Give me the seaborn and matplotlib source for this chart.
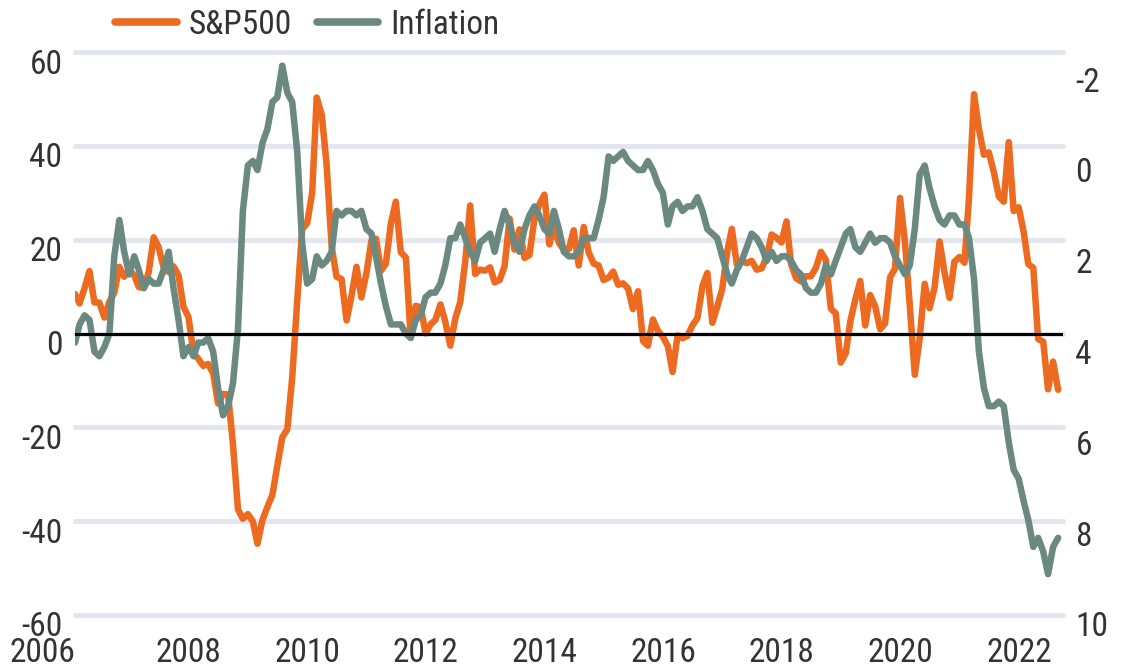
import numpy as np
import pandas as pd
import matplotlib
matplotlib.use("Agg")
import matplotlib.pyplot as plt
import matplotlib.dates as mdates
import matplotlib.transforms as mtransforms
import matplotlib.font_manager as fm
import seaborn as sns

# ---------------- data (monthly, Jan 2006 - Aug 2022) ----------------
sp500_yoy = [
    # 2006
    8.4, 6.4, 9.7, 13.3, 6.6, 6.6, 3.4, 6.8, 8.7, 14.2, 12.1, 13.6,
    # 2007
    12.4, 9.9, 9.7, 13.1, 20.5, 18.4, 14.0, 13.1, 14.3, 12.4, 5.7, 3.5,
    # 2008
    -4.2, -5.4, -6.9, -6.5, -8.5, -14.9, -12.9, -13.0, -23.6, -37.5, -39.5, -38.5,
    # 2009
    -40.1, -44.8, -39.7, -37.0, -34.4, -28.2, -22.1, -20.4, -9.4, 7.0, 22.2, 23.5,
    # 2010
    30.0, 50.3, 46.6, 36.0, 18.5, 12.1, 11.6, 2.8, 8.0, 14.2, 7.7, 12.8,
    # 2011
    19.8, 20.2, 13.4, 14.9, 23.5, 28.1, 17.3, 16.2, -0.9, 5.9, 5.6, 0.0,
    # 2012
    2.0, 2.9, 6.2, 2.5, -2.6, 3.1, 6.7, 15.4, 27.3, 12.7, 13.6, 13.4,
    # 2013
    14.1, 10.9, 11.4, 14.3, 24.5, 17.9, 22.2, 16.1, 16.7, 24.4, 27.5, 29.6,
    # 2014
    19.0, 22.8, 19.3, 17.9, 18.0, 22.0, 14.5, 22.7, 17.3, 14.9, 14.5, 11.4,
    # 2015
    11.9, 13.2, 10.4, 10.7, 9.6, 5.2, 9.0, -1.6, -2.6, 3.0, 0.6, -0.7,
    # 2016
    -2.7, -8.2, -0.4, -1.0, -0.5, 1.7, 3.3, 10.1, 12.9, 2.3, 5.7, 9.5,
    # 2017
    17.5, 22.3, 14.7, 15.4, 15.0, 15.5, 13.6, 13.9, 16.2, 21.1, 20.4, 19.4,
    # 2018
    23.9, 14.8, 11.8, 11.1, 12.2, 12.2, 14.0, 17.4, 15.7, 5.3, 4.3, -6.2,
    # 2019
    -4.2, 2.6, 7.3, 11.2, 1.7, 8.2, 5.8, 0.9, 2.2, 12.0, 13.8, 28.9,
    # 2020
    19.3, 6.1, -8.8, -1.1, 10.6, 5.4, 9.8, 19.6, 13.0, 7.6, 15.3, 16.3,
    # 2021
    15.1, 29.0, 51.0, 43.6, 38.1, 38.6, 34.4, 29.2, 28.1, 40.8, 26.1, 26.9,
    # 2022
    21.6, 14.8, 14.0, -1.2, -1.7, -11.9, -6.0, -12.0,
]

inflation_yoy = [
    # 2006
    4.0, 3.6, 3.4, 3.5, 4.2, 4.3, 4.1, 3.8, 2.1, 1.3, 2.0, 2.5,
    # 2007
    2.1, 2.4, 2.8, 2.6, 2.7, 2.7, 2.4, 2.0, 2.8, 3.5, 4.3, 4.1,
    # 2008
    4.3, 4.0, 4.0, 3.9, 4.2, 5.0, 5.6, 5.4, 4.9, 3.7, 1.1, 0.1,
    # 2009
    0.0, 0.2, -0.4, -0.7, -1.3, -1.4, -2.1, -1.5, -1.3, -0.2, 1.8, 2.7,
    # 2010
    2.6, 2.1, 2.3, 2.2, 2.0, 1.1, 1.2, 1.1, 1.1, 1.2, 1.1, 1.5,
    # 2011
    1.6, 2.1, 2.7, 3.2, 3.6, 3.6, 3.6, 3.8, 3.9, 3.5, 3.4, 3.0,
    # 2012
    2.9, 2.9, 2.7, 2.3, 1.7, 1.7, 1.4, 1.7, 2.0, 2.2, 1.8, 1.7,
    # 2013
    1.6, 2.0, 1.5, 1.1, 1.4, 1.8, 2.0, 1.5, 1.2, 1.0, 1.2, 1.5,
    # 2014
    1.6, 1.1, 1.5, 2.0, 2.1, 2.1, 2.0, 1.7, 1.7, 1.7, 1.3, 0.8,
    # 2015
    -0.1, 0.0, -0.1, -0.2, 0.0, 0.1, 0.2, 0.2, 0.0, 0.2, 0.5, 0.7,
    # 2016
    1.4, 1.0, 0.9, 1.1, 1.0, 1.0, 0.8, 1.1, 1.5, 1.6, 1.7, 2.1,
    # 2017
    2.5, 2.7, 2.4, 2.2, 1.9, 1.6, 1.7, 1.9, 2.2, 2.0, 2.2, 2.1,
    # 2018
    2.1, 2.2, 2.4, 2.5, 2.8, 2.9, 2.9, 2.7, 2.3, 2.5, 2.2, 1.9,
    # 2019
    1.6, 1.5, 1.9, 2.0, 1.8, 1.6, 1.8, 1.7, 1.7, 1.8, 2.1, 2.3,
    # 2020
    2.5, 2.3, 1.5, 0.3, 0.1, 0.6, 1.0, 1.3, 1.4, 1.2, 1.2, 1.4,
    # 2021
    1.4, 1.7, 2.6, 4.2, 5.0, 5.4, 5.4, 5.3, 5.4, 6.2, 6.8, 7.0,
    # 2022
    7.5, 7.9, 8.5, 8.3, 8.6, 9.1, 8.5, 8.3,
]

start_month = "2006-01-01"
left_ticks = [-60, -40, -20, 0, 20, 40, 60]
right_ticks = [-2, 0, 2, 4, 6, 8, 10]
year_ticks = list(range(2006, 2023, 2))
series_names = ["S&P500", "Inflation"]

# ---------------- styling ----------------
sns.set_style("white")

# look for a narrow / condensed sans font
entries = fm.fontManager.ttflist
names = {f.name for f in entries}
family, stretch = None, "normal"
for cand in ["Liberation Sans Narrow", "Arial Narrow", "Roboto Condensed",
             "Open Sans Condensed", "Noto Sans Condensed", "DejaVu Sans Condensed"]:
    if cand in names:
        family = cand
        break
if family is None:
    for base in ["Liberation Sans", "Roboto", "Noto Sans", "Open Sans", "DejaVu Sans"]:
        cond = [f for f in entries if f.name == base and str(f.stretch) in
                ("condensed", "semi-condensed", "extra-condensed", "300", "400", "200")
                and f.weight in (400, "normal", "regular")]
        if cond:
            family, stretch = base, cond[0].stretch
            break
if family is None:
    family = "Liberation Sans"

plt.rcParams["font.family"] = [family, "DejaVu Sans"]
plt.rcParams["font.stretch"] = stretch

ORANGE = "#ED6A21"
GREEN = "#6B8980"
GRID = "#E3E6EE"
TEXT = "#333333"
FS = 24 if stretch != "normal" or family != "Liberation Sans" else 23

dates = pd.date_range(start=start_month, periods=len(sp500_yoy), freq="MS") + pd.offsets.MonthEnd(0)
df = pd.DataFrame({"date": dates, "sp": sp500_yoy, "cpi": inflation_yoy})

fig = plt.figure(figsize=(11.33, 6.69), dpi=100)
ax = fig.add_axes([75 / 1133, 1 - 615 / 669, (1063 - 75) / 1133, (615 - 52) / 669])
ax2 = ax.twinx()

sns.lineplot(data=df, x="date", y="sp", ax=ax, color=ORANGE, linewidth=4.7,
             label=series_names[0], legend=False)
sns.lineplot(data=df, x="date", y="cpi", ax=ax2, color=GREEN, linewidth=4.7,
             label=series_names[1], legend=False)

# axes limits
x0 = mdates.date2num(pd.Timestamp("2006-01-31"))
x1 = mdates.date2num(pd.Timestamp("2022-09-30"))
ax.set_xlim(x0, x1)
ax.set_ylim(-60, 60)
ax2.set_ylim(10, -2.4)

# gridlines (left axis)
ax.set_yticks(left_ticks)
ax.grid(axis="y", color=GRID, linewidth=3.6)
ax.grid(axis="x", visible=False)
for gl in ax.get_ygridlines():
    gl.set_clip_on(False)
ax2.grid(False)
ax2.set_yticks(right_ticks)

# zero line drawn on top of both series
ax2.plot([0, 1], [0, 0], color="black", linewidth=2.2,
         transform=mtransforms.blended_transform_factory(ax2.transAxes, ax.transData),
         zorder=10)

# x ticks
xt = [x0] + [mdates.date2num(pd.Timestamp(f"{y}-01-01")) for y in year_ticks[1:]]
ax.set_xticks(xt)
ax.set_xticklabels([str(y) for y in year_ticks])
ax.get_xticklabels()[0].set_horizontalalignment("right")

for a in (ax, ax2):
    for s in a.spines.values():
        s.set_visible(False)
    a.set_xlabel("")
    a.set_ylabel("")
    a.tick_params(length=0, labelsize=FS, labelcolor=TEXT)

ax.tick_params(axis="y", pad=9)
ax2.tick_params(axis="y", pad=9)
ax.tick_params(axis="x", pad=16)

ax2.set_yticklabels([str(v) for v in right_ticks])
ax.set_yticklabels([str(v) for v in left_ticks])

offset = mtransforms.ScaledTranslation(0, -9 / 100, fig.dpi_scale_trans)
for lbl in ax.get_yticklabels() + ax2.get_yticklabels():
    lbl.set_transform(lbl.get_transform() + offset)

# legend
h1, l1 = ax.get_legend_handles_labels()
h2, l2 = ax2.get_legend_handles_labels()
leg = fig.legend(h1 + h2, l1 + l2, loc="center left",
                 bbox_to_anchor=(115 / 1133, 1 - 25 / 669), ncol=2, frameon=False,
                 fontsize=FS, handlelength=1.85, handletextpad=0.35, columnspacing=0.75,
                 borderaxespad=0, borderpad=0)
for line in leg.get_lines():
    line.set_linewidth(5.5)
for t in leg.get_texts():
    t.set_color(TEXT)

fig.savefig("out.png", dpi=100)
